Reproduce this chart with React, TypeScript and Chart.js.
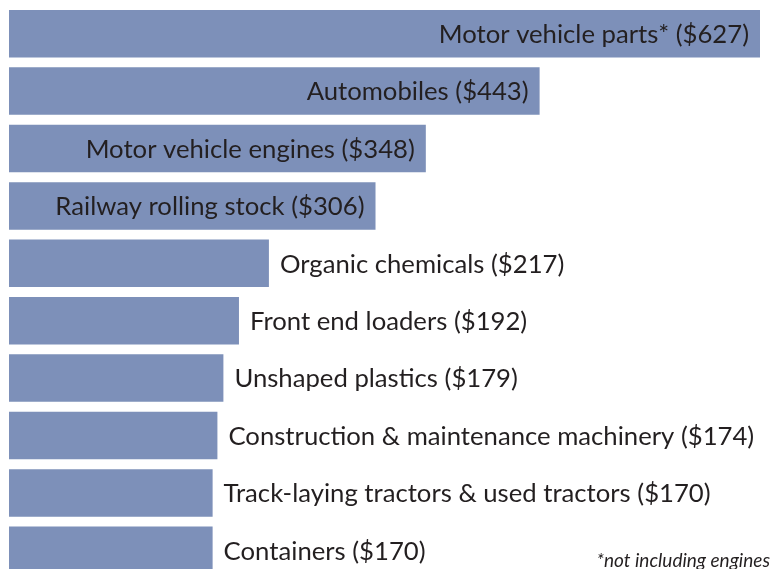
import React, { useEffect, useRef } from "react";
import { Chart, registerables } from "chart.js";

Chart.register(...registerables);

const categories = [
  "Motor vehicle parts*",
  "Automobiles",
  "Motor vehicle engines",
  "Railway rolling stock",
  "Organic chemicals",
  "Front end loaders",
  "Unshaped plastics",
  "Construction & maintenance machinery",
  "Track-laying tractors & used tractors",
  "Containers",
];
const values = [627, 443, 348, 306, 217, 192, 179, 174, 170, 170];
const insideCount = 4;
const footnote = "*not including engines";

const FONT = "Lato";
const TEXT_COLOR = "#231f20";

const labelPlugin = {
  id: "barLabels",
  afterDatasetsDraw(chart: any) {
    const ctx = chart.ctx;
    const meta = chart.getDatasetMeta(0);
    ctx.save();
    ctx.font = `25.7px ${FONT}`;
    ctx.fillStyle = TEXT_COLOR;
    ctx.textBaseline = "middle";
    meta.data.forEach((bar: any, i: number) => {
      const text = `${categories[i]} ($${values[i]})`;
      if (i < insideCount) {
        ctx.textAlign = "right";
        ctx.fillText(text, bar.x - 11, bar.y + 1);
      } else {
        ctx.textAlign = "left";
        ctx.fillText(text, bar.x + 11, bar.y + 1);
      }
    });
    ctx.font = `italic 19px ${FONT}`;
    ctx.textAlign = "right";
    ctx.textBaseline = "alphabetic";
    ctx.fillText(footnote, 770, 567);
    ctx.restore();
  },
};

export default function App() {
  const ref = useRef<HTMLCanvasElement | null>(null);
  useEffect(() => {
    if (!ref.current) return;
    const chart = new Chart(ref.current, {
      type: "bar",
      data: {
        labels: categories,
        datasets: [
          {
            data: values,
            backgroundColor: "#7d90b9",
            borderWidth: 0,
            barPercentage: 0.828,
            categoryPercentage: 1,
          },
        ],
      },
      options: {
        indexAxis: "y",
        responsive: false,
        animation: false,
        layout: { padding: { left: 9, right: 12, top: 5, bottom: 1 } },
        plugins: { legend: { display: false }, tooltip: { enabled: false } },
        scales: {
          x: { display: false, min: 0, max: 627 },
          y: { display: false },
        },
      },
      plugins: [labelPlugin],
    });
    return () => chart.destroy();
  }, []);
  return (
    <div
      style={{
        position: "fixed",
        left: 0,
        top: 0,
        width: 772,
        height: 569,
        overflow: "hidden",
        background: "#fff",
      }}
    >
      <canvas ref={ref} width={772} height={580} style={{ display: "block" }} />
    </div>
  );
}
